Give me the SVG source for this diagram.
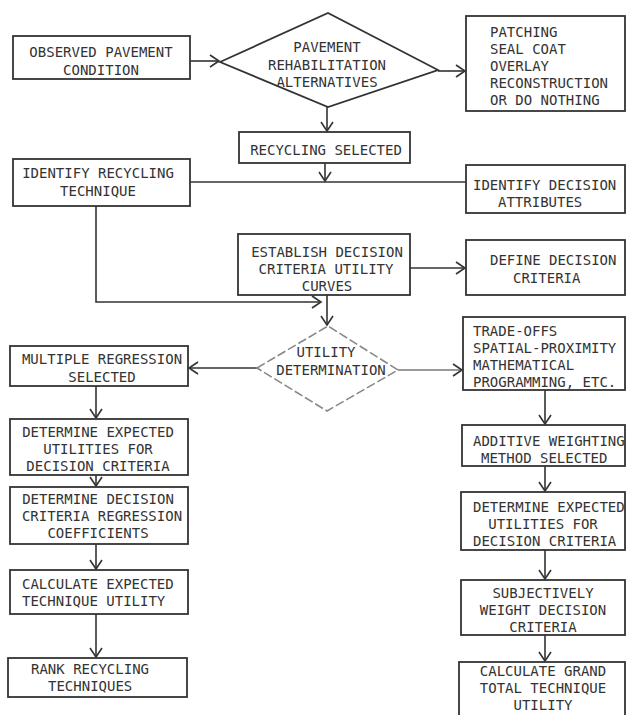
<svg xmlns="http://www.w3.org/2000/svg" width="627" height="715" viewBox="0 0 627 715">
<style>
.b{fill:#fff;stroke:#333;stroke-width:1.8}
.d{fill:#fff;stroke:#888;stroke-width:1.6;stroke-dasharray:9 3}
.c{fill:none;stroke:#333;stroke-width:1.6}
.cl{fill:none;stroke:#777;stroke-width:1.4}
text{font-family:"DejaVu Sans Mono","Liberation Mono",monospace;font-size:14px;fill:#333}
.m{text-anchor:middle}
</style>
<defs>
<marker id="a" markerUnits="userSpaceOnUse" markerWidth="12" markerHeight="14" refX="10" refY="7" orient="auto"><path d="M1,1 L10,7 L1,13" fill="none" stroke="#333" stroke-width="1.6"/></marker>
</defs>
<rect width="627" height="715" fill="#fff"/>
<g id="connectors">
<path class="c" d="M190,61 H219" marker-end="url(#a)"/>
<path class="c" d="M438,71 H465" marker-end="url(#a)"/>
<path class="c" d="M327,107 V131" marker-end="url(#a)"/>
<path class="c" d="M325,163 V181" marker-end="url(#a)"/>
<path class="c" d="M190,182 H466"/>
<path class="c" d="M96,206 V302 H321" marker-end="url(#a)"/>
<path class="c" d="M327,295 V325" marker-end="url(#a)"/>
<path class="c" d="M410,268 H465" marker-end="url(#a)"/>
<path class="c" d="M257,368 H189" marker-end="url(#a)"/>
<path class="cl" d="M398,370 H462" marker-end="url(#a)"/>
<path class="c" d="M96,386 V418" marker-end="url(#a)"/>
<path class="c" d="M96,475 V486" marker-end="url(#a)"/>
<path class="c" d="M96,544 V569" marker-end="url(#a)"/>
<path class="c" d="M96,614 V657" marker-end="url(#a)"/>
<path class="c" d="M545,390 V424" marker-end="url(#a)"/>
<path class="c" d="M545,466 V491" marker-end="url(#a)"/>
<path class="c" d="M545,550 V579" marker-end="url(#a)"/>
<path class="c" d="M545,635 V661" marker-end="url(#a)"/>
</g>
<g id="observed">
<rect class="b" x="13" y="36" width="177" height="43"/>
<text class="m" x="101" y="57">OBSERVED PAVEMENT</text>
<text class="m" x="101" y="75">CONDITION</text>
</g>
<g id="rehab">
<polygon class="b" points="220,62 328,13 438,70 328,107"/>
<text class="m" x="327" y="52">PAVEMENT</text>
<text class="m" x="327" y="70">REHABILITATION</text>
<text class="m" x="327" y="87">ALTERNATIVES</text>
</g>
<g id="alternatives">
<rect class="b" x="466" y="16" width="159" height="95"/>
<text x="490" y="37">PATCHING</text>
<text x="490" y="54">SEAL COAT</text>
<text x="490" y="71">OVERLAY</text>
<text x="490" y="88">RECONSTRUCTION</text>
<text x="490" y="105">OR DO NOTHING</text>
</g>
<g id="recycling-selected">
<rect class="b" x="239" y="132" width="171" height="31"/>
<text class="m" x="326" y="155">RECYCLING SELECTED</text>
</g>
<g id="identify-technique">
<rect class="b" x="13" y="159" width="177" height="47"/>
<text class="m" x="98" y="178">IDENTIFY RECYCLING</text>
<text class="m" x="98" y="196">TECHNIQUE</text>
</g>
<g id="identify-attributes">
<rect class="b" x="466" y="165" width="159" height="48"/>
<text x="473" y="190">IDENTIFY DECISION</text>
<text x="498" y="207">ATTRIBUTES</text>
</g>
<g id="establish">
<rect class="b" x="238" y="234" width="172" height="61"/>
<text class="m" x="327" y="257">ESTABLISH DECISION</text>
<text class="m" x="326" y="274">CRITERIA UTILITY</text>
<text class="m" x="327" y="291">CURVES</text>
</g>
<g id="define">
<rect class="b" x="466" y="240" width="159" height="55"/>
<text x="490" y="265">DEFINE DECISION</text>
<text x="513" y="283">CRITERIA</text>
</g>
<g id="utility-determination">
<polygon class="d" points="257,368 328,326 398,370 327,411"/>
<text class="m" x="326" y="357">UTILITY</text>
<text class="m" x="331" y="375">DETERMINATION</text>
</g>
<g id="multiple-regression">
<rect class="b" x="10" y="346" width="178" height="40"/>
<text class="m" x="102" y="364">MULTIPLE REGRESSION</text>
<text class="m" x="102" y="382">SELECTED</text>
</g>
<g id="tradeoffs">
<rect class="b" x="463" y="317" width="162" height="73"/>
<text x="473" y="336">TRADE-OFFS</text>
<text x="473" y="353">SPATIAL-PROXIMITY</text>
<text x="473" y="370">MATHEMATICAL</text>
<text x="473" y="387">PROGRAMMING, ETC.</text>
</g>
<g id="left-expected">
<rect class="b" x="10" y="419" width="178" height="56"/>
<text class="m" x="98" y="437">DETERMINE EXPECTED</text>
<text class="m" x="98" y="454">UTILITIES FOR</text>
<text class="m" x="98" y="471">DECISION CRITERIA</text>
</g>
<g id="regression-coefficients">
<rect class="b" x="10" y="487" width="178" height="57"/>
<text class="m" x="98" y="504">DETERMINE DECISION</text>
<text class="m" x="102" y="521">CRITERIA REGRESSION</text>
<text class="m" x="98" y="538">COEFFICIENTS</text>
</g>
<g id="calculate-expected">
<rect class="b" x="10" y="570" width="178" height="44"/>
<text x="22" y="589">CALCULATE EXPECTED</text>
<text x="22" y="606">TECHNIQUE UTILITY</text>
</g>
<g id="rank">
<rect class="b" x="8" y="658" width="179" height="39"/>
<text x="31" y="674">RANK RECYCLING</text>
<text x="48" y="691">TECHNIQUES</text>
</g>
<g id="additive">
<rect class="b" x="462" y="425" width="163" height="41"/>
<text x="473" y="446">ADDITIVE WEIGHTING</text>
<text x="481" y="463">METHOD SELECTED</text>
</g>
<g id="right-expected">
<rect class="b" x="461" y="492" width="164" height="58"/>
<text x="473" y="512">DETERMINE EXPECTED</text>
<text class="m" x="543" y="529">UTILITIES FOR</text>
<text x="473" y="546">DECISION CRITERIA</text>
</g>
<g id="subjective">
<rect class="b" x="461" y="580" width="164" height="55"/>
<text class="m" x="543" y="598">SUBJECTIVELY</text>
<text class="m" x="543" y="615">WEIGHT DECISION</text>
<text class="m" x="543" y="632">CRITERIA</text>
</g>
<g id="grand-total">
<rect class="b" x="459" y="662" width="166" height="60"/>
<text class="m" x="543" y="676">CALCULATE GRAND</text>
<text class="m" x="543" y="693">TOTAL TECHNIQUE</text>
<text class="m" x="543" y="710">UTILITY</text>
</g>
</svg>
